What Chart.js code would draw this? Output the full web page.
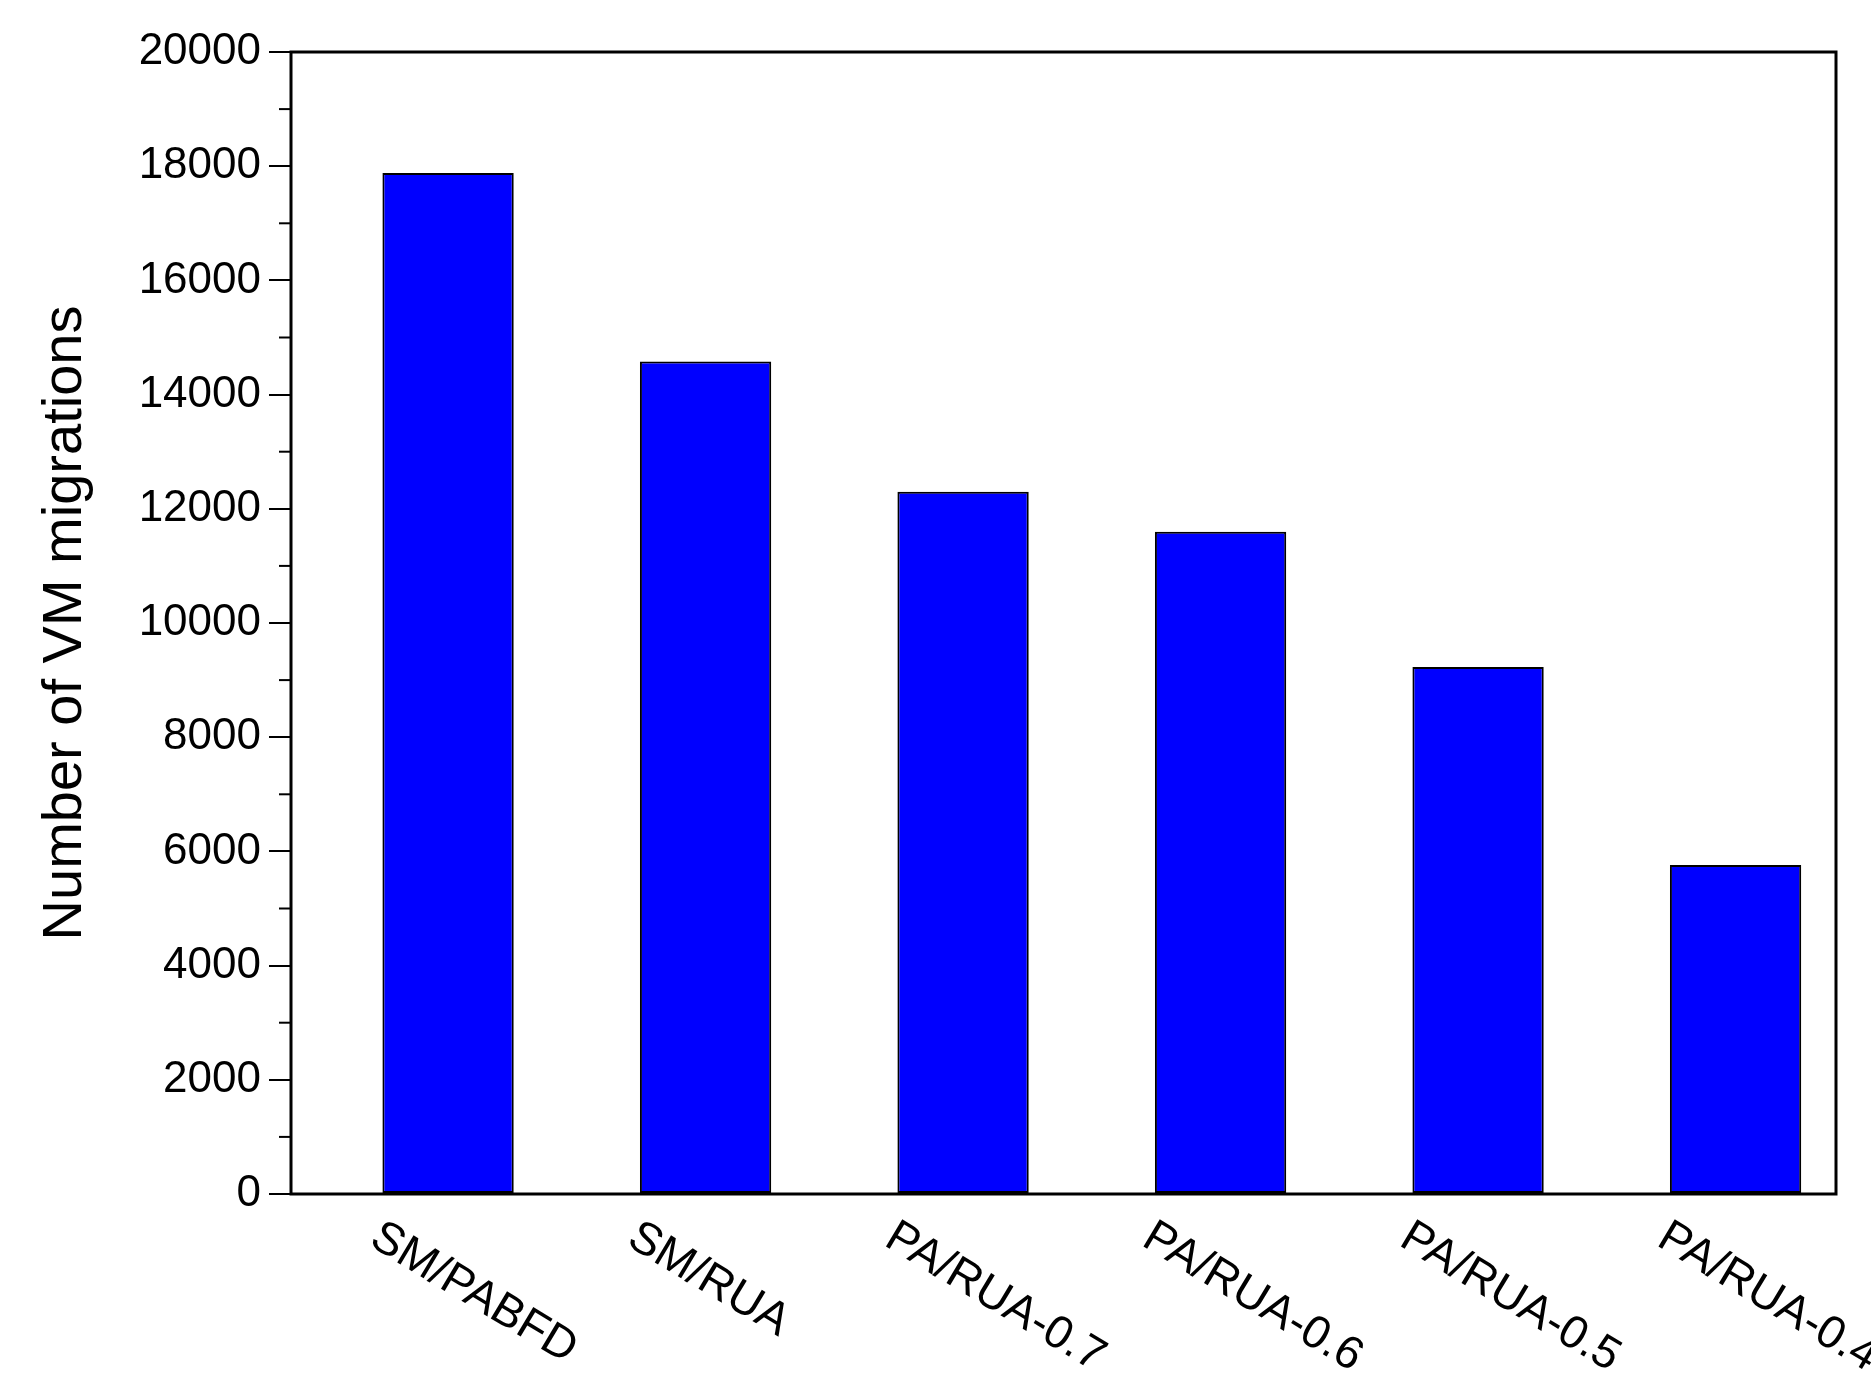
<!DOCTYPE html>
<html>
<head>
<meta charset="utf-8">
<script src="https://cdn.jsdelivr.net/npm/chart.js@4"></script>
<style>
  body { margin: 0; background: #fff; }
  #wrap { width: 1871px; height: 1397px; }
</style>
</head>
<body>
<div id="wrap"><canvas id="myChart"></canvas></div>
<script>
const categories = ['SM/PABFD', 'SM/RUA', 'PA/RUA-0.7', 'PA/RUA-0.6', 'PA/RUA-0.5', 'PA/RUA-0.4', 'PA/RUA-0.3']
const migrations = [17880, 14580, 12300, 11600, 9230, 5760, 3100]
const yTicks = [0, 2000, 4000, 6000, 8000, 10000, 12000, 14000, 16000, 18000, 20000]

const FONT = 'Liberation Sans, Arial, sans-serif'

// frame, minor ticks and slanted category labels
const extras = {
  id: 'extras',
  afterDraw(chart) {
    const ctx = chart.ctx
    const a = chart.chartArea
    const y = chart.scales.y
    const x = chart.scales.x
    ctx.save()
    ctx.strokeStyle = '#000'
    ctx.lineWidth = 3
    ctx.strokeRect(a.left, a.top, a.right - a.left, a.bottom - a.top)
    // minor ticks
    ctx.lineWidth = 2
    for (let v = 1000; v < 20000; v += 2000) {
      const py = y.getPixelForValue(v)
      ctx.beginPath()
      ctx.moveTo(a.left - 12, py)
      ctx.lineTo(a.left, py)
      ctx.stroke()
    }
    // x labels, rotated down-right
    ctx.fillStyle = '#000'
    ctx.font = '46px ' + FONT
    ctx.textAlign = 'left'
    ctx.textBaseline = 'top'
    for (let i = 0; i < categories.length; i++) {
      const px = x.getPixelForValue(i)
      ctx.save()
      ctx.translate(px - 62, a.bottom + 20)
      ctx.rotate(31 * Math.PI / 180)
      ctx.fillText(categories[i], 0, 0)
      ctx.restore()
    }
    ctx.restore()
  }
}

var ctx = document.getElementById('myChart').getContext('2d')
var chart = new Chart(ctx, {
  type: 'bar',
  data: {
    labels: categories,
    datasets: [{
      data: migrations,
      backgroundColor: '#0000ff',
      borderColor: '#000',
      borderWidth: 2,
      borderSkipped: false,
      barPercentage: 0.51,
      categoryPercentage: 1
    }]
  },
  plugins: [extras],
  options: {
    responsive: true,
    maintainAspectRatio: false,
    animation: false,
    layout: { padding: { top: 52, right: 35, left: 0, bottom: 0 } },
    plugins: { legend: { display: false }, tooltip: { enabled: false } },
    scales: {
      x: {
        offset: false,
        afterDataLimits(s) { s.min = -0.61; s.max = 6.70 },
        grid: { display: false, drawTicks: false },
        border: { display: false },
        ticks: { display: false },
        afterFit(s) { s.height = 203 }
      },
      y: {
        min: 0,
        max: 20000,
        afterBuildTicks(s) { s.ticks = yTicks.map(v => ({ value: v })) },
        grid: { display: true, drawOnChartArea: false, tickLength: 22, color: '#000', lineWidth: 2 },
        border: { display: false },
        ticks: { color: '#000', font: { family: FONT, size: 44 }, padding: 8, callback: v => String(v) },
        title: { display: true, text: 'Number of VM migrations', color: '#000', font: { family: FONT, size: 56 }, padding: { top: 32, bottom: 10 } },
        afterFit(s) { s.width = 291 }
      }
    }
  }
})
</script>
</body>
</html>
